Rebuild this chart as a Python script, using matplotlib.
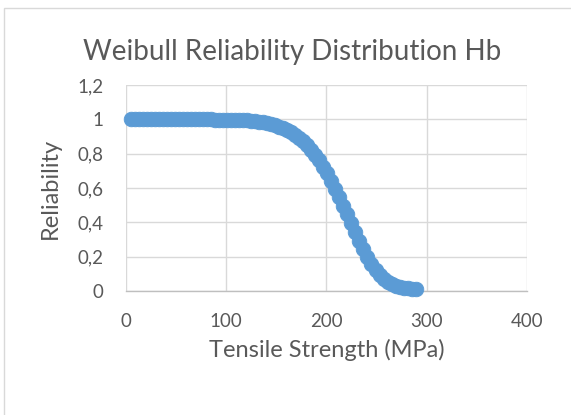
import matplotlib
matplotlib.use("Agg")
import matplotlib.pyplot as plt
from matplotlib.patches import Rectangle
from matplotlib.ticker import FuncFormatter

strength = [5, 9, 13, 17, 21, 25, 29, 33, 37, 41, 45, 49, 53, 57, 61, 65, 69, 73,
            77, 81, 85, 89, 93, 97, 101, 105, 109, 113, 117, 121, 125, 129, 133,
            137, 141, 145, 149, 153, 157, 161, 165, 169, 173, 177, 181, 185, 189,
            193, 197, 201, 205, 209, 213, 217, 221, 225, 229, 233, 237, 241, 245,
            249, 253, 257, 261, 265, 269, 273, 277, 281, 285, 289]
reliability = [1.000, 1.000, 1.000, 1.000, 1.000, 1.000, 1.000, 1.000, 1.000, 1.000,
               1.000, 1.000, 1.000, 1.000, 1.000, 1.000, 1.000, 1.000, 1.000, 1.000,
               1.000, 0.999, 0.999, 0.999, 0.998, 0.998, 0.997, 0.996, 0.995, 0.994,
               0.992, 0.989, 0.986, 0.983, 0.978, 0.973, 0.966, 0.958, 0.949, 0.938,
               0.925, 0.910, 0.893, 0.872, 0.849, 0.824, 0.794, 0.761, 0.725, 0.685,
               0.643, 0.597, 0.549, 0.498, 0.446, 0.394, 0.342, 0.292, 0.244, 0.199,
               0.158, 0.123, 0.092, 0.068, 0.052, 0.040, 0.030, 0.024, 0.019, 0.015,
               0.012, 0.010]
x_ticks = [0, 100, 200, 300, 400]
y_ticks = [0, 0.2, 0.4, 0.6, 0.8, 1.0, 1.2]

title = "Weibull Reliability Distribution Hb"
x_label = "Tensile Strength (MPa)"
y_label = "Reliability"

FONT = ["Lato", "DejaVu Sans"]
TXT = "#595959"
BLUE = "#5B9BD5"

W, H = 571, 415
fig = plt.figure(figsize=(W / 100, H / 100), dpi=100)
fig.patch.set_facecolor("white")

# chart frame (Excel chart area border)
fig.add_artist(Rectangle((4 / W, -0.05), 1.2, 1 - 8 / H + 0.05,
                         transform=fig.transFigure, fill=False,
                         edgecolor="#D9D9D9", linewidth=1.0))

ax = fig.add_axes([125.7 / W, 1 - 291 / H, (527 - 125.7) / W, (291 - 85) / H])
ax.plot(strength, reliability, linestyle="none", marker="o", markersize=10.5,
        markerfacecolor=BLUE, markeredgecolor=BLUE, markeredgewidth=0.6,
        clip_on=False, zorder=3)

ax.set_xlim(0, 400)
ax.set_ylim(0, 1.2)
ax.set_xticks(x_ticks)
ax.set_yticks(y_ticks)
ax.yaxis.set_major_formatter(FuncFormatter(
    lambda v, p: ("%g" % round(v, 1)).replace(".", ",")))
ax.grid(True, color="#D9D9D9", linewidth=1.0)
ax.set_axisbelow(True)
for s in ["top", "right", "left"]:
    ax.spines[s].set_visible(False)
ax.spines["bottom"].set_color("#BFBFBF")
ax.spines["bottom"].set_linewidth(1.0)
ax.tick_params(length=0, labelsize=13.5, labelcolor=TXT)
ax.tick_params(axis="x", pad=16)
ax.tick_params(axis="y", pad=16)
for lab in ax.get_xticklabels() + ax.get_yticklabels():
    lab.set_family(FONT)

ax.set_xlabel(x_label, fontsize=17, color=TXT, family=FONT, labelpad=6)
ax.set_ylabel(y_label, fontsize=17, color=TXT, family=FONT, labelpad=12)
fig.text(292 / W, 1 - 52 / H, title, ha="center", va="center",
         fontsize=20, color=TXT, family=FONT)

fig.savefig("out.png", dpi=100, facecolor="white")
